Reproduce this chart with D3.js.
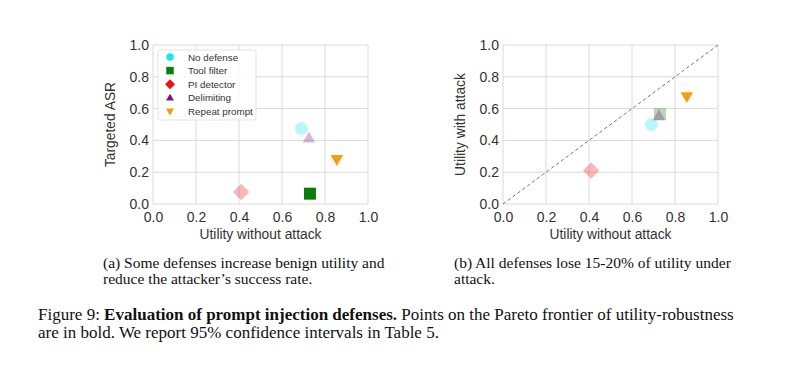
<!DOCTYPE html>
<html>
<head>
<meta charset="utf-8">
<script src="https://cdn.jsdelivr.net/npm/d3@7"></script>
<style>
  body { margin: 0; background: #fff; }
  svg { display: block; }
</style>
</head>
<body>
<div id="chart"></div>
<script>
// data
const defenses = ["No defense", "Tool filter", "PI detector", "Delimiting", "Repeat prompt"];
const utility_no_attack = [0.69, 0.73, 0.41, 0.725, 0.855];
const targeted_asr = [0.475, 0.065, 0.075, 0.41, 0.285];
const utility_with_attack = [0.50, 0.565, 0.21, 0.55, 0.68];
const pareto_a = [false, true, false, false, true];
const pareto_b = [false, false, false, false, true];
const colors = ["#19e6f2", "#0a7d0a", "#f50f0f", "#7d1080", "#f59d0f"];
const shapes = ["circle", "square", "diamond", "up", "down"];
const ticks = [0, 0.2, 0.4, 0.6, 0.8, 1.0];

const W = 800, H = 367;
const svg = d3.select("#chart").append("svg").attr("width", W).attr("height", H);
const sans = "Liberation Sans, Arial, sans-serif";

const sym = (shape, s) => {
    // s = rough marker width in px
    if (shape === "circle") return d3.symbol(d3.symbolCircle, Math.PI * (s / 2) * (s / 2))();
    if (shape === "square") return d3.symbol(d3.symbolSquare, s * s)();
    if (shape === "diamond") return d3.symbol(d3.symbolSquare, s * s / 2)();
    return d3.symbol(d3.symbolTriangle, Math.sqrt(3) / 4 * s * s)();
};
const rot = shape => shape === "diamond" ? 45 : shape === "down" ? 180 : 0;
const sizes = {circle: 13, square: 12, diamond: 16.5, up: 12.5, down: 12.5};

const make_panel = (left, ylabel, yvals, bold, diag) => {
    const top = 45, bottom = 204, right = left + 215;
    const x = d3.scaleLinear().domain([0, 1]).range([left, right]);
    const y = d3.scaleLinear().domain([0, 1]).range([bottom, top]);
    const g = svg.append("g");

    // grid
    g.selectAll(".gx").data(ticks).enter().append("line")
     .attr("x1", d => x(d)).attr("x2", d => x(d))
     .attr("y1", top).attr("y2", bottom)
     .attr("stroke", "#dadada").attr("stroke-width", 1);
    g.selectAll(".gy").data(ticks).enter().append("line")
     .attr("y1", d => y(d)).attr("y2", d => y(d))
     .attr("x1", left).attr("x2", right)
     .attr("stroke", "#dadada").attr("stroke-width", 1);

    const xa = g.append("g").attr("transform", `translate(0,${bottom})`)
                .call(d3.axisBottom(x).tickValues(ticks).tickFormat(d3.format(".1f")).tickSize(0).tickPadding(8));
    const ya = g.append("g").attr("transform", `translate(${left},0)`)
                .call(d3.axisLeft(y).tickValues(ticks).tickFormat(d3.format(".1f")).tickSize(0).tickPadding(4));
    [xa, ya].forEach(a => {
        a.select(".domain").remove();
        a.selectAll("text").attr("font-family", sans)
         .attr("font-size", "14px").attr("fill", "#333");
    });

    if (diag) {
        g.append("line")
         .attr("x1", x(0)).attr("y1", y(0)).attr("x2", x(1)).attr("y2", y(1))
         .attr("stroke", "#777").attr("stroke-width", 1).attr("stroke-dasharray", "3.5,2.5");
    }

    g.selectAll(".pt").data(defenses).enter().append("path")
     .attr("d", (d, i) => sym(shapes[i], sizes[shapes[i]]))
     .attr("transform", (d, i) => `translate(${x(utility_no_attack[i])},${y(yvals[i])}) rotate(${rot(shapes[i])})`)
     .attr("fill", (d, i) => colors[i])
     .attr("fill-opacity", (d, i) => bold[i] ? 1 : 0.3);

    g.append("text")
     .attr("x", (left + right) / 2).attr("y", 239)
     .attr("text-anchor", "middle")
     .attr("font-family", sans).attr("font-size", "13.8px").attr("fill", "#333")
     .text("Utility without attack");
    g.append("text")
     .attr("transform", `translate(${left - 38},${(top + bottom) / 2}) rotate(-90)`)
     .attr("text-anchor", "middle")
     .attr("font-family", sans).attr("font-size", "13.8px").attr("fill", "#333")
     .text(ylabel);
    return g;
};

const pa = make_panel(153, "Targeted ASR", targeted_asr, pareto_a, false);
make_panel(503, "Utility with attack", utility_with_attack, pareto_b, true);

// legend on panel (a)
const leg = pa.append("g");
leg.append("rect").attr("x", 158).attr("y", 50).attr("width", 98).attr("height", 70)
   .attr("rx", 2).attr("fill", "#fff").attr("fill-opacity", 0.85)
   .attr("stroke", "#dcdcdc").attr("stroke-width", 0.8);
const lsizes = {circle: 7.5, square: 7.5, diamond: 10, up: 8, down: 8};
defenses.forEach((d, i) => {
    const ly = 57 + i * 13.6;
    leg.append("path")
       .attr("d", sym(shapes[i], lsizes[shapes[i]]))
       .attr("transform", `translate(170,${ly + (shapes[i] === "up" ? 0.5 : shapes[i] === "down" ? -0.5 : 0)}) rotate(${rot(shapes[i])})`)
       .attr("fill", colors[i]);
    leg.append("text").attr("x", 188).attr("y", ly + 3.5)
       .attr("font-family", sans).attr("font-size", "9.8px").attr("fill", "#333")
       .text(d);
});

// captions
const serif = "Liberation Serif, Times New Roman, serif";
const cap = (x, y, txt, size) => svg.append("text").attr("x", x).attr("y", y)
    .attr("font-family", serif).attr("font-size", size).attr("fill", "#111").text(txt);
cap(103, 268, "(a) Some defenses increase benign utility and", "15.5px");
cap(103, 284, "reduce the attacker\u2019s success rate.", "15.5px");
cap(454, 268, "(b) All defenses lose 15-20% of utility under", "15.5px");
cap(454, 284, "attack.", "15.5px");

const l1 = svg.append("text").attr("x", 38).attr("y", 320)
    .attr("font-family", serif).attr("font-size", "17px").attr("fill", "#111");
l1.append("tspan").text("Figure 9: ");
l1.append("tspan").attr("font-weight", "bold").text("Evaluation of prompt injection defenses.");
l1.append("tspan").text(" Points on the Pareto frontier of utility-robustness");
cap(38, 338, "are in bold. We report 95% confidence intervals in Table 5.", "17px");
</script>
</body>
</html>
